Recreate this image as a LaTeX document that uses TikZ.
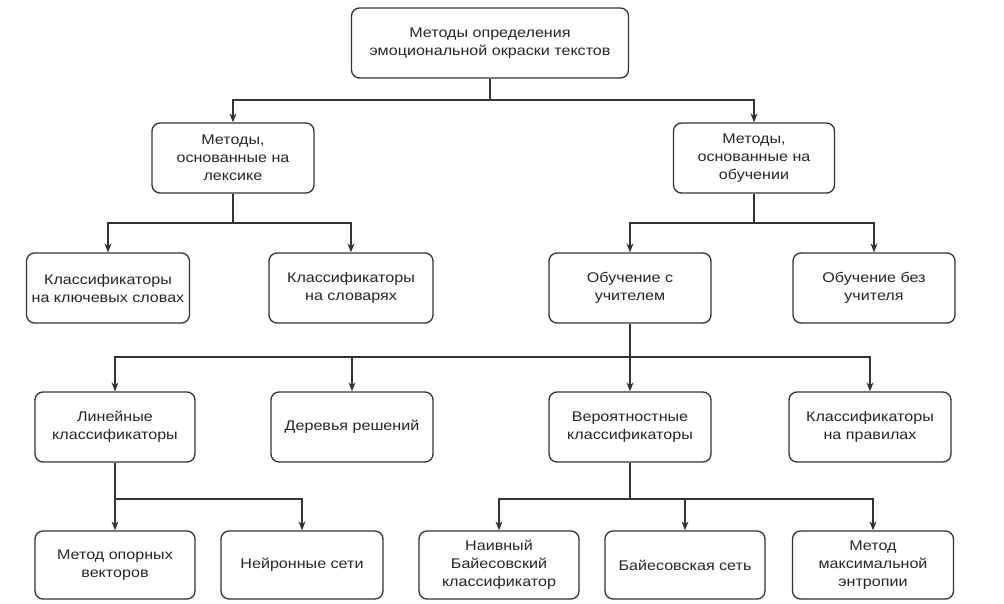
\documentclass[tikz,border=0pt]{standalone}
\usepackage{fontspec}
\setmainfont{Liberation Sans}[FakeStretch=1.15]
\usetikzlibrary{arrows.meta}
\definecolor{edge}{HTML}{333333}
\tikzset{
    box/.style={draw=edge, line width=1.3pt, rounded corners=8pt, fill=white,
        align=center, inner sep=2pt, text=black!85,
        font=\fontsize{14}{18}\selectfont},
    arr/.style={draw=edge, line width=1.1pt,
        -{Stealth[length=9pt, width=7pt]}}
}

\begin{document}
\begin{tikzpicture}[x=1pt, y=-1pt]
\useasboundingbox (0,0) rectangle (1004,604);

% Level 1
\node[box, minimum width=277pt, minimum height=70pt] (top) at (490,43)
    {Методы определения\\эмоциональной окраски текстов};

% Level 2
\node[box, minimum width=162pt, minimum height=70pt] (lex) at (233,158)
    {Методы,\\основанные на\\лексике};
\node[box, minimum width=161pt, minimum height=70pt] (lrn) at (754,158)
    {Методы,\\основанные на\\обучении};

% Level 3
\node[box, minimum width=163pt, minimum height=70pt] (kw) at (108,288)
    {Классификаторы\\на ключевых словах};
\node[box, minimum width=164pt, minimum height=70pt] (dict) at (351,288)
    {Классификаторы\\на словарях};
\node[box, minimum width=162pt, minimum height=70pt] (sup) at (630,288)
    {Обучение с\\учителем};
\node[box, minimum width=162pt, minimum height=70pt] (unsup) at (874,288)
    {Обучение без\\учителя};

% Level 4
\node[box, minimum width=160pt, minimum height=70pt] (lin) at (115,427)
    {Линейные\\классификаторы};
\node[box, minimum width=162pt, minimum height=70pt] (tree) at (352,427)
    {Деревья решений};
\node[box, minimum width=162pt, minimum height=70pt] (prob) at (630,427)
    {Вероятностные\\классификаторы};
\node[box, minimum width=162pt, minimum height=70pt] (rule) at (870,427)
    {Классификаторы\\на правилах};

% Level 5
\node[box, minimum width=160pt, minimum height=68pt] (svm) at (115,565)
    {Метод опорных\\векторов};
\node[box, minimum width=162pt, minimum height=68pt] (nn) at (302,565)
    {Нейронные сети};
\node[box, minimum width=160pt, minimum height=68pt] (nb) at (499,565)
    {Наивный\\Байесовский\\классификатор};
\node[box, minimum width=160pt, minimum height=68pt] (bn) at (685,565)
    {Байесовская сеть};
\node[box, minimum width=161pt, minimum height=68pt] (maxent) at (873,565)
    {Метод\\максимальной\\энтропии};

% Junctions
\coordinate (j1) at (490,100);
\coordinate (j2) at (233,223);
\coordinate (j3) at (754,223);
\coordinate (j4) at (630,357);
\coordinate (j5) at (115,499);
\coordinate (j6) at (630,499);

% Connectors
\draw[edge, line width=1.1pt] (top) -- (j1);
\draw[arr] (j1) -| (lex);
\draw[arr] (j1) -| (lrn);

\draw[edge, line width=1.1pt] (lex) -- (j2);
\draw[arr] (j2) -| (kw);
\draw[arr] (j2) -| (dict);
\draw[edge, line width=1.1pt] (lrn) -- (j3);
\draw[arr] (j3) -| (sup);
\draw[arr] (j3) -| (unsup);

\draw[edge, line width=1.1pt] (sup) -- (j4);
\draw[arr] (j4) -| (lin);
\draw[arr] (j4) -| (tree);
\draw[arr] (j4) -- (prob);
\draw[arr] (j4) -| (rule);

\draw[edge, line width=1.1pt] (lin) -- (j5);
\draw[arr] (j5) -- (svm);
\draw[arr] (j5) -| (nn);
\draw[edge, line width=1.1pt] (prob) -- (j6);
\draw[arr] (j6) -| (nb);
\draw[arr] (j6) -| (bn);
\draw[arr] (j6) -| (maxent);

\end{tikzpicture}
\end{document}
